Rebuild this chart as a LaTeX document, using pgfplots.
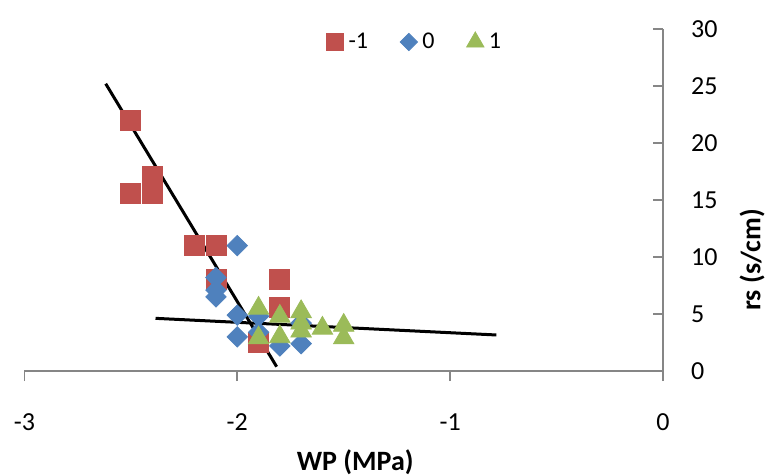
\documentclass[border=0pt]{standalone}
\usepackage{pgfplots}
\pgfplotsset{compat=1.18}
\usepackage{fontspec}
\setmainfont{Carlito}
\definecolor{xred}{HTML}{C0504D}
\definecolor{xblue}{HTML}{4F81BD}
\definecolor{xgreen}{HTML}{9BBB59}
\definecolor{axgray}{HTML}{868686}
\pgfdeclareplotmark{sdiamond*}{%
 \pgfpathmoveto{\pgfqpoint{0pt}{\pgfplotmarksize}}%
 \pgfpathlineto{\pgfqpoint{\pgfplotmarksize}{0pt}}%
 \pgfpathlineto{\pgfqpoint{0pt}{-\pgfplotmarksize}}%
 \pgfpathlineto{\pgfqpoint{-\pgfplotmarksize}{0pt}}%
 \pgfpathclose\pgfusepathqfillstroke}
\begin{document}
\begin{tikzpicture}
\begin{axis}[
  name=ax,
  scale only axis, width=319.3pt, height=171pt,
  xmin=-3, xmax=0, ymin=0, ymax=30,
  axis x line*=bottom, axis y line*=right,
  axis line style={-, draw=axgray, line width=0.8pt},
  xtick={-3,-2,-1,0}, ytick={0,5,...,30},
  tick align=outside, major tick length=5pt,
  tick style={draw=axgray, line width=0.8pt},
  y tick style={xshift=-5pt},
  /pgf/number format/assume math mode=true,
  tick label style={font=\fontsize{13}{15}\selectfont},
  xticklabel style={yshift=-13pt},
  yticklabel style={anchor=west, xshift=5.5pt},
  every axis x label/.style={at={(rel axis cs:0.518,0)}, yshift=-45.5pt, anchor=center, font=\bfseries\fontsize{14}{16}\selectfont},
  every axis y label/.style={at={(rel axis cs:1,0.325)}, xshift=44.5pt, anchor=center, rotate=90, font=\bfseries\fontsize{14}{16}\selectfont},
  xlabel={WP (MPa)},
  ylabel={rs (s/cm)},
  legend columns=3,
  legend style={at={(0.613,0.962)}, anchor=center, draw=none, fill=none,
    font=\fontsize{12}{14}\selectfont,
    /tikz/every odd column/.append style={column sep=0.5pt},
    /tikz/every even column/.append style={column sep=14pt}},
  legend image code/.code={\draw[#1, mark options={scale=0.85}] plot coordinates {(0,0)};},
]
\addplot[only marks, mark=square*, color=xred, mark size=5pt] coordinates {
(-2.5,22.0) (-2.5,15.6) (-2.4,17.1) (-2.4,15.6) (-2.2,11.0) (-2.1,11.0)
(-2.1,8.0) (-1.8,8.0) (-1.8,5.6) (-1.9,2.5)
};
\addlegendentry{-1}
\addplot[only marks, mark=sdiamond*, color=xblue, mark size=5.1pt] coordinates {
(-2.0,11.0) (-2.1,8.2) (-2.1,7.1) (-2.1,6.5) (-2.0,4.9) (-2.0,3.0)
(-1.9,4.8) (-1.9,3.4) (-1.8,2.2) (-1.7,2.4) (-1.7,4.2)
};
\addlegendentry{0}
\addplot[only marks, mark=triangle*, color=xgreen, mark size=5.9pt] coordinates {
(-1.9,5.5) (-1.9,2.9) (-1.8,4.8) (-1.8,3.0) (-1.7,5.2) (-1.7,4.2)
(-1.7,3.5) (-1.6,3.75) (-1.5,4.0) (-1.5,2.9)
};
\addlegendentry{1}
\addplot[black, line width=1.5pt, forget plot] coordinates {(-2.618,25.2) (-1.815,0.38)};
\addplot[black, line width=1.5pt, forget plot] coordinates {(-2.384,4.62) (-0.783,3.16)};
\coordinate (bl) at (rel axis cs:0,0);
\coordinate (tr) at (rel axis cs:1,1);
\end{axis}
\pgfresetboundingbox
\path[use as bounding box] ([xshift=-12.2pt,yshift=-52.5pt]bl) rectangle ([xshift=51.5pt,yshift=14.5pt]tr);
\end{tikzpicture}
\end{document}
